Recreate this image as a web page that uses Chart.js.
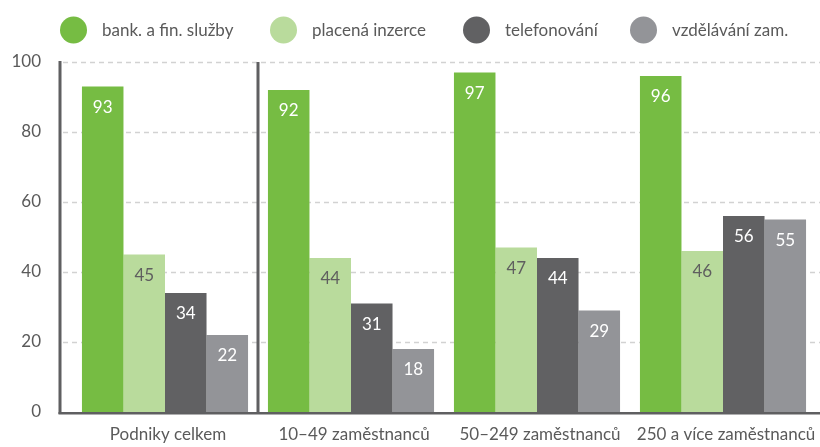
<!DOCTYPE html>
<html>
<head>
<meta charset="utf-8">
<script src="https://cdn.jsdelivr.net/npm/chart.js@4/dist/chart.umd.min.js"></script>
<style>
  html, body { margin: 0; padding: 0; background: #fff; }
  #wrap { width: 820px; height: 447px; }
</style>
</head>
<body>
<div id="wrap"><canvas id="chart" width="820" height="447"></canvas></div>
<script>
const categories = ['Podniky celkem', '10–49 zaměstnanců', '50–249 zaměstnanců', '250 a více zaměstnanců'];
const seriesNames = ['bank. a fin. služby', 'placená inzerce', 'telefonování', 'vzdělávání zam.'];
const bankValues = [93, 92, 97, 96];
const inzerceValues = [45, 44, 47, 46];
const telefonValues = [34, 31, 44, 56];
const vzdelavaniValues = [22, 18, 29, 55];
const yTicks = [0, 20, 40, 60, 80, 100];

const colors = ['#76bc43', '#b9db9c', '#616163', '#939498'];
const labelColors = ['#ffffff', '#5f5f5f', '#ffffff', '#ffffff'];
const textColor = '#5a5a5a';
const fontFamily = 'Lato, "Open Sans", sans-serif';

// legenda s velkými kolečky (vestavěná legenda je neumí tak velké)
const legendPlugin = {
    id: 'bigLegend',
    afterDraw(chart) {
        const ctx = chart.ctx;
        const starts = [60, 270, 463, 630];
        ctx.save();
        ctx.font = '17px ' + fontFamily;
        ctx.textBaseline = 'middle';
        ctx.textAlign = 'left';
        chart.data.datasets.forEach((ds, i) => {
            const x = starts[i];
            ctx.fillStyle = ds.backgroundColor;
            ctx.beginPath();
            ctx.arc(x + 13.5, 30, 13.5, 0, Math.PI * 2);
            ctx.fill();
            ctx.fillStyle = textColor;
            ctx.fillText(ds.label, x + 42, 31);
        });

        // popisky kategorií - poslední se smí oříznout o okraj
        const xs = chart.scales.x;
        const bottom = chart.scales.y.getPixelForValue(0);
        ctx.textAlign = 'center';
        chart.data.labels.forEach((lab, i) => {
            ctx.fillText(lab, xs.getPixelForValue(i) + 3, bottom + 23);
        });
        ctx.restore();
    }
};

// mřížka, osy a oddělovač první skupiny
const framePlugin = {
    id: 'frame',
    beforeDatasetsDraw(chart) {
        const ctx = chart.ctx;
        const area = chart.chartArea;
        const y = chart.scales.y;
        const left = area.left - 12;
        const right = chart.width;
        ctx.save();
        ctx.strokeStyle = '#d2d2d2';
        ctx.lineWidth = 1.5;
        ctx.setLineDash([5, 4]);
        yTicks.forEach(t => {
            if (t === 0) return;
            const py = Math.round(y.getPixelForValue(t)) + 0.5;
            ctx.beginPath();
            ctx.moveTo(left + 3, py);
            ctx.lineTo(right, py);
            ctx.stroke();
        });
        ctx.setLineDash([]);
        ctx.restore();
    },
    afterDatasetsDraw(chart) {
        const ctx = chart.ctx;
        const area = chart.chartArea;
        const y = chart.scales.y;
        const x = chart.scales.x;
        const left = area.left - 12;
        const top = y.getPixelForValue(100);
        const bottom = y.getPixelForValue(0);
        ctx.save();
        ctx.fillStyle = '#5f5f61';
        // levá osa
        ctx.fillRect(left - 1.5, top - 1, 3, bottom - top + 3);
        // spodní osa
        ctx.fillRect(left - 1.5, bottom, chart.width - left + 1.5, 2.5);
        // oddělovač "Podniky celkem"
        const sep = (x.getPixelForValue(0) + x.getPixelForValue(1)) / 2;
        ctx.fillRect(sep - 1.5, top, 3, bottom - top);

        // popisky hodnot
        ctx.font = '17px ' + fontFamily;
        ctx.textAlign = 'center';
        ctx.textBaseline = 'middle';
        chart.data.datasets.forEach((ds, i) => {
            const meta = chart.getDatasetMeta(i);
            meta.data.forEach((bar, j) => {
                ctx.fillStyle = labelColors[i];
                ctx.fillText(String(ds.data[j]), bar.x, bar.y + 21);
            });
        });
        ctx.restore();
    }
};

const allValues = [bankValues, inzerceValues, telefonValues, vzdelavaniValues];

new Chart(document.getElementById('chart'), {
    type: 'bar',
    data: {
        labels: categories,
        datasets: allValues.map((vals, i) => ({
            label: seriesNames[i],
            data: vals,
            backgroundColor: colors[i],
            borderWidth: 0,
            barPercentage: 1.0,
            categoryPercentage: 0.893
        }))
    },
    options: {
        responsive: false,
        animation: false,
        devicePixelRatio: 1,
        layout: {
            autoPadding: false,
            padding: { top: 62, right: 4, bottom: 35, left: 0 }
        },
        plugins: {
            legend: { display: false },
            tooltip: { enabled: false }
        },
        scales: {
            x: {
                grid: { display: false, drawTicks: false },
                border: { display: false },
                ticks: { display: false }
            },
            y: {
                min: 0,
                max: 100,
                // pevná šířka osy, bez automatického odsazení od popisků
                afterFit: s => { s.width = 72; s.paddingTop = 0; s.paddingBottom = 0; },
                grid: { display: false, drawTicks: false },
                border: { display: false },
                ticks: {
                    stepSize: 20,
                    color: textColor,
                    font: { family: fontFamily, size: 17 },
                    padding: 31
                }
            }
        }
    },
    plugins: [framePlugin, legendPlugin]
});
</script>
</body>
</html>
